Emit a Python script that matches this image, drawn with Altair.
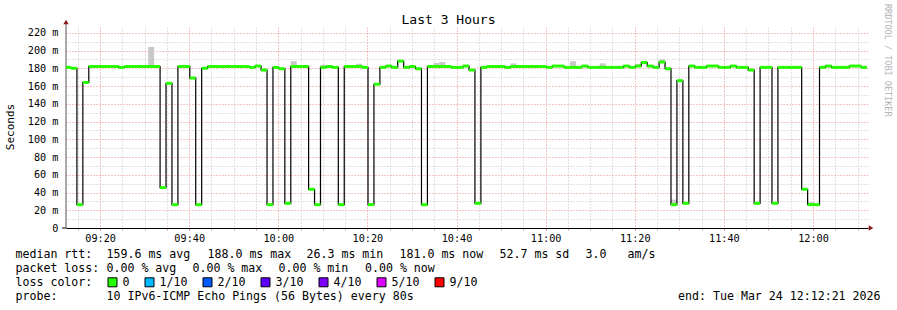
import altair as alt
import pandas as pd

# ---------------- data ----------------
title_text = "Last 3 Hours"
y_title = "Seconds"
watermark = "RRDTOOL / TOBI OETIKER"

domain_start_min = 9 * 60 + 12 + 21 / 60   # 09:12:21 (minutes since midnight)
domain_end_min = 12 * 60 + 12 + 21 / 60    # 12:12:21
first_step_min = 9 * 60 + 13 + 28 / 60     # first full 80 s step starts 09:13:28
step_min = 80 / 60

# median rtt (ms) per 80 s step; first value is the partial step at the left edge
median_ms = [
    181,
    180, 26.3, 164, 182, 182, 182, 182, 182, 181, 182,
    182, 182, 182, 182, 182, 45.5, 163, 26.3, 182, 182,
    169, 26.3, 180, 182, 182, 182, 182, 182, 182, 182,
    181, 182.5, 178, 26.3, 181, 179.5, 27.8, 182, 182, 182,
    43.6, 26.3, 181, 182, 181, 26.3, 182, 182, 182, 181,
    26.3, 162, 181, 182.5, 181, 188, 181, 182, 179.5, 26.3,
    182, 182, 182, 182, 181, 181, 182.5, 178, 27.8, 181,
    182, 182, 182, 181, 182, 182, 182, 182, 182, 182,
    181, 182.5, 182.5, 181, 181, 181, 182.5, 181, 181, 181,
    181, 181, 181, 182.5, 181, 182.5, 186.5, 182.5, 181, 187,
    179.5, 26.3, 166, 27.8, 182.5, 181, 181, 182.5, 182.5, 181,
    181, 182.5, 181, 181, 178, 27.8, 181, 181, 27.8, 181,
    181, 181, 181, 43.6, 26.3, 26.3, 181, 182.5, 181, 181,
    181, 182.5, 182.5, 181,
]

# smoke (grey) visible above the median: step index and top value (ms)
smoke_step = [13, 37, 42, 48, 61, 62, 74, 84, 89, 95, 99, 101, 124]
smoke_top_ms = [204, 188, 184, 185, 186, 187, 185.5, 188, 185.5, 185, 190, 32, 29]

x_tick_minutes = list(range(555, 731, 5))
y_tick_ms = list(range(0, 221, 10))

row1_parts = ["median rtt:", "159.6 ms avg", "188.0 ms max", "26.3 ms min",
              "181.0 ms now", "52.7 ms sd", "3.0", "am/s"]
row2_parts = ["packet loss:", "0.00 % avg", "0.00 % max", "0.00 % min", "0.00 % now"]
loss_head = "loss color:"
loss_labels = ["0", "1/10", "2/10", "3/10", "4/10", "5/10", "9/10"]
loss_colors = ["#26ff00", "#00b8ff", "#0059ff", "#5e00ff", "#7e00ff", "#dd00ff", "#ff0000"]
probe_head = "probe:"
probe_text = "10 IPv6-ICMP Echo Pings (56 Bytes) every 80s"
end_text = "end: Tue Mar 24 12:12:21 2026"

# ---------------- layout (pixels) ----------------
W, H = 897, 310
PL, PT, PR, PB = 66, 27, 29, 82
PW, PH = W - PL - PR, H - PT - PB
MONO = "DejaVu Sans Mono"
row_base = [258.3, 272.3, 286.3, 300.3]
row1_x = [15.5, 106.5, 207.5, 306.5, 399.5, 499.5, 585.5, 627.5]
row2_x = [15.5, 106.5, 192.5, 278.5, 365.0]
LEG_FS = 11.6
AX_FS = 10.2


def px(x):
    return x - PL


def py(y):
    return y - PT


# ---------------- tables ----------------
t0 = [domain_start_min] + [first_step_min + k * step_min for k in range(len(median_ms) - 1)]
t1 = [first_step_min + k * step_min for k in range(len(median_ms))]
steps = pd.DataFrame({"t0": t0, "t1": t1, "v": median_ms})
line_df = pd.DataFrame({"t0": t0 + [t1[-1]], "v": median_ms + [median_ms[-1]]})
smoke_df = pd.DataFrame({
    "t0": [t0[s + 1] for s in smoke_step],
    "t1": [t1[s + 1] for s in smoke_step],
    "v": [median_ms[s + 1] for s in smoke_step],
    "top": smoke_top_ms,
})

xscale = alt.Scale(domain=[domain_start_min, domain_end_min], nice=False, zero=False)
yscale = alt.Scale(domain=[0, 226.5], nice=False, zero=True)

MAJOR_RED = "#f08a8a"
MINOR_GREY = "#c4c4c4"

x_axis = alt.Axis(
    values=x_tick_minutes,
    grid=True,
    gridColor={"condition": {"test": "datum.value % 20 === 0", "value": MAJOR_RED}, "value": MINOR_GREY},
    gridDash=[1, 2],
    gridWidth=1,
    labelExpr="datum.value % 20 === 0 ? utcFormat(datum.value * 60000, '%H:%M') : ''",
    labelFont=MONO,
    labelFontSize=AX_FS,
    labelColor="#000000",
    labelOverlap=False,
    labelFlush=False,
    labelPadding=3,
    tickSize=2,
    tickColor={"condition": {"test": "datum.value % 20 === 0", "value": "#e06060"}, "value": "#e0a0a0"},
    domainColor="#000000",
    domainWidth=1,
    title=None,
)
y_axis = alt.Axis(
    values=y_tick_ms,
    grid=True,
    gridColor={"condition": {"test": "datum.value % 20 === 0", "value": MAJOR_RED}, "value": MINOR_GREY},
    gridDash=[1, 2],
    gridWidth=1,
    labelExpr="datum.value % 20 === 0 ? (datum.value === 0 ? '0' : datum.value + ' m') : ''",
    labelFont=MONO,
    labelFontSize=AX_FS,
    labelColor="#000000",
    labelOverlap=False,
    labelFlush=False,
    labelPadding=8,
    ticks=False,
    domain=False,
    title=None,
)

X = alt.X("t0:Q", scale=xscale, axis=x_axis)
Y = alt.Y("v:Q", scale=yscale, axis=y_axis)

smoke = alt.Chart(smoke_df).mark_rect(color="#c8c8c8").encode(x=X, x2="t1:Q", y=Y, y2="top:Q")

black = alt.Chart(line_df).mark_line(interpolate="step-after", color="#000000", strokeWidth=1.2).encode(x=X, y=Y)

green = alt.Chart(steps).mark_rule(color=loss_colors[0], strokeWidth=3, strokeCap="butt").encode(
    x=X, x2="t1:Q", y=Y
)

one = pd.DataFrame({"a": [0]})

yline = alt.Chart(one).mark_rule(color="#555555", strokeWidth=1).encode(
    x=alt.value(0), y=alt.value(-5), y2=alt.value(PH)
)
xstub = alt.Chart(one).mark_rule(color="#000000", strokeWidth=1).encode(
    x=alt.value(-4), x2=alt.value(0), y=alt.value(PH)
)


def txt(s, x, y, size=LEG_FS, align="left", baseline="alphabetic", angle=0, color="#000000"):
    kw = dict(text=s, font=MONO, fontSize=size, align=align, baseline=baseline, color=color)
    if angle:
        kw["angle"] = angle
    return alt.Chart(one).mark_text(**kw).encode(x=alt.value(px(x)), y=alt.value(py(y)))


layers = [smoke, yline, xstub, black, green]

# arrows
layers.append(alt.Chart(one).mark_point(shape="triangle-up", filled=True, size=28, color="#8b1a1a", opacity=1)
              .encode(x=alt.value(0), y=alt.value(-5)))
layers.append(alt.Chart(one).mark_point(shape="triangle-right", filled=True, size=28, color="#8b1a1a", opacity=1)
              .encode(x=alt.value(PW + 3), y=alt.value(PH)))

# titles
layers.append(txt(title_text, 448.5, 24, size=13, align="center"))
layers.append(txt(y_title, 11, 127, size=11, align="center", baseline="middle", angle=270))
layers.append(txt(watermark, 888, 4, size=8.5, align="left", baseline="middle", angle=90, color="#b4b4b4"))

# legend rows
for s, x in zip(row1_parts, row1_x):
    layers.append(txt(s, x, row_base[0]))
for s, x in zip(row2_parts, row2_x):
    layers.append(txt(s, x, row_base[1]))
layers.append(txt(loss_head, 15.5, row_base[2]))
sq_x = 108.0
for lab, col in zip(loss_labels, loss_colors):
    layers.append(alt.Chart(one).mark_rect(color=col, stroke="#000000", strokeWidth=1).encode(
        x=alt.value(px(sq_x)), x2=alt.value(px(sq_x + 9)),
        y=alt.value(py(row_base[2] - 8.5)), y2=alt.value(py(row_base[2] + 0.5))))
    layers.append(txt(lab, sq_x + 14.5, row_base[2]))
    sq_x += 30 + 7 * len(lab)
layers.append(txt(probe_head, 15.5, row_base[3]))
layers.append(txt(probe_text, 106.5, row_base[3]))
layers.append(txt(end_text, 880.5, row_base[3], align="right"))

chart = alt.layer(*layers).properties(
    width=PW, height=PH,
    padding={"left": PL, "top": PT, "right": PR, "bottom": PB},
    autosize=alt.AutoSizeParams(type="none"),
    background="#ffffff",
).configure_view(stroke=None)

chart.save("out.html", embed_options={"renderer": "svg", "actions": False})
